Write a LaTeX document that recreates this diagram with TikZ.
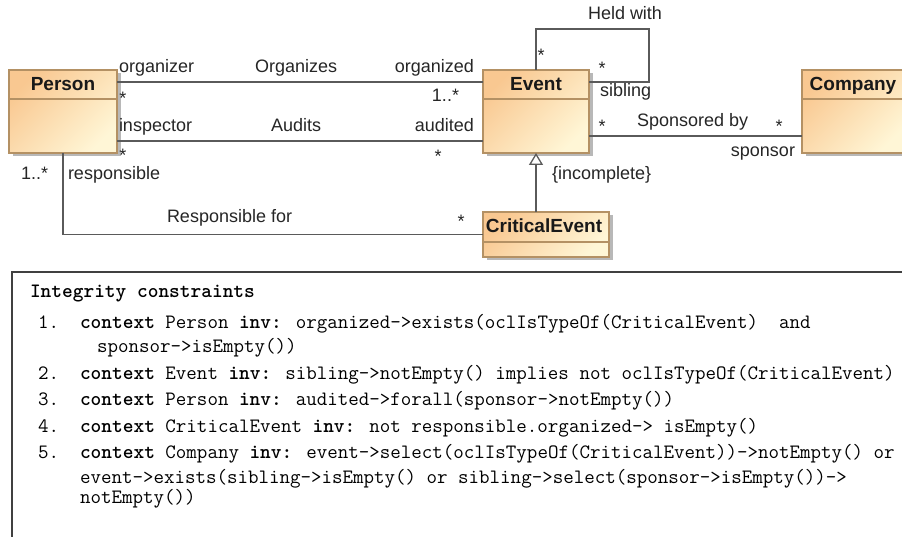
\documentclass[tikz,border=0pt]{standalone}
\usepackage{fontspec}
\setmainfont{Liberation Sans}
\usetikzlibrary{arrows.meta,shadows,calc}
\definecolor{boxborder}{RGB}{180,145,100}
\definecolor{boxtop}{RGB}{249,200,145}
\definecolor{boxbottom}{RGB}{255,246,214}
\definecolor{linegray}{RGB}{90,90,90}
\tikzset{
  classbox/.style={draw=boxborder, line width=1.2pt, inner sep=0pt, outer sep=0pt,
    top color=boxtop, bottom color=boxbottom, shading angle=45,
    drop shadow={shadow xshift=3.5pt, shadow yshift=-3.5pt, fill=black, opacity=0.28}},
  boxline/.style={draw=boxborder, line width=1.1pt},
  lbl/.style={inner sep=0pt, outer sep=0pt, font=\fontsize{18}{21}\selectfont, text=black!85},
  cname/.style={inner sep=0pt, outer sep=0pt, font=\fontsize{19}{22}\selectfont\bfseries, text=black!90},
  conn/.style={draw=linegray, line width=1.3pt},
  mono/.style={inner sep=0pt, outer sep=0pt, anchor=base west, font=\ttfamily\fontsize{20.4}{24}\selectfont},
}
\begin{document}
\begin{tikzpicture}[x=1pt,y=-1pt]
\useasboundingbox (0,0) rectangle (902,537);
\clip (0,0) rectangle (902,537);
\fill[white] (0,0) rectangle (902,537);

% classes
\node[classbox, minimum width=108pt, minimum height=83pt] (person) at (63,111.5) {};
\node[classbox, minimum width=106pt, minimum height=83pt] (event) at (536,111.5) {};
\node[classbox, minimum width=104pt, minimum height=83pt] (company) at (854,111.5) {};
\node[classbox, minimum width=126pt, minimum height=45pt] (critical) at (546,234.5) {};
\foreach \n in {person,event,company}
  \draw[boxline] ([yshift=-29pt]\n.north west) -- ([yshift=-29pt]\n.north east);
\draw[boxline] ([yshift=-30pt]critical.north west) -- ([yshift=-30pt]critical.north east);

\node[cname, anchor=base] (personname) at (63,91) {Person};
\node[cname, anchor=base] (eventname) at (536,91) {Event};
\node[cname, anchor=base] (companyname) at (853,91) {Company};
\node[cname, anchor=base] (criticalname) at (544,233) {CriticalEvent};

% connectors
\coordinate (loopc) at (649,29);
\draw[conn] (person.east |- 0,82) -- (event.west |- 0,82);
\draw[conn] (person.east |- 0,141) -- (event.west |- 0,141);
\draw[conn] (person.south) |- (critical.west);
\draw[conn] (event.north) |- (loopc) |- (event.east |- 0,82);
\draw[conn] (event.east |- 0,136) -- (company.west |- 0,136);
\draw[conn, -{Triangle[open, length=12pt, width=14pt]}] (critical.north -| event.south) -- (event.south);

% labels
\node[lbl, anchor=base west] (l1) at (119,73) {organizer};
\node[lbl, anchor=base west] (l2) at (255,73) {Organizes};
\node[lbl, anchor=base east] (l3) at (474,73) {organized};
\node[lbl, anchor=base] (l4) at (123,105) {*};
\node[lbl, anchor=base east] (l5) at (459,102) {1..*};
\node[lbl, anchor=base west] (l6) at (119,132) {inspector};
\node[lbl, anchor=base west] (l7) at (271,132) {Audits};
\node[lbl, anchor=base east] (l8) at (474,132) {audited};
\node[lbl, anchor=base] (l9) at (123,162) {*};
\node[lbl, anchor=base] (l10) at (438,163) {*};
\node[lbl, anchor=base west] (l11) at (21,180) {1..*};
\node[lbl, anchor=base west] (l12) at (68,180) {responsible};
\node[lbl, anchor=base west] (l13) at (167,223) {Responsible for};
\node[lbl, anchor=base] (l14) at (461,228) {*};
\node[lbl, anchor=base west] (l15) at (552,180) {\{incomplete\}};
\node[lbl, anchor=base west] (l16) at (588,20) {Held with};
\node[lbl, anchor=base] (l17) at (541,62) {*};
\node[lbl, anchor=base] (l18) at (602,75) {*};
\node[lbl, anchor=base west] (l19) at (600,97) {sibling};
\node[lbl, anchor=base] (l20) at (602,133) {*};
\node[lbl, anchor=base west] (l21) at (637,127) {Sponsored by};
\node[lbl, anchor=base] (l22) at (779,133) {*};
\node[lbl, anchor=base east] (l23) at (795,157) {sponsor};

% constraints box
\draw[line width=1.5pt, draw=black!75] (12,545) -- (12,272) -- (910,272);
\node[mono] (title) at (30,298) {\bfseries Integrity constraints};
\node[mono] (n1) at (38,328) {1.};
\node[mono] (c1) at (80,328) {\textbf{context} Person \textbf{inv:} organized->exists(oclIsTypeOf(CriticalEvent)\ \ and};
\node[mono] (c1b) at (97,352) {sponsor->isEmpty())};
\node[mono] (n2) at (38,379) {2.};
\node[mono] (c2) at (80,379) {\textbf{context} Event \textbf{inv:} sibling->notEmpty() implies not oclIsTypeOf(CriticalEvent)};
\node[mono] (n3) at (38,405) {3.};
\node[mono] (c3) at (80,405) {\textbf{context} Person \textbf{inv:} audited->forall(sponsor->notEmpty())};
\node[mono] (n4) at (38,432) {4.};
\node[mono] (c4) at (80,432) {\textbf{context} CriticalEvent \textbf{inv:} not responsible.organized-> isEmpty()};
\node[mono] (n5) at (38,458) {5.};
\node[mono] (c5) at (80,458) {\textbf{context} Company \textbf{inv:} event->select(oclIsTypeOf(CriticalEvent))->notEmpty() or};
\node[mono] (c5b) at (80,483) {event->exists(sibling->isEmpty() or sibling->select(sponsor->isEmpty())->};
\node[mono] (c5c) at (80,503) {notEmpty())};
\end{tikzpicture}
\end{document}
